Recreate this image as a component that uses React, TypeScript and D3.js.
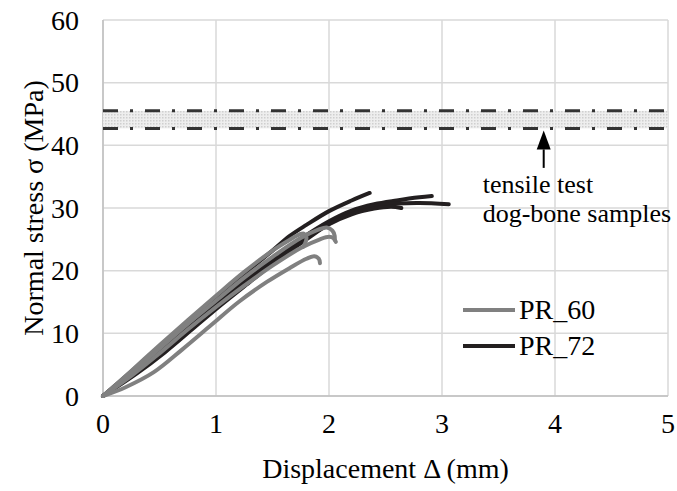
import React from "react";
import * as d3 from "d3";

type Pt = [number, number];

// PR_60 specimens (displacement mm, stress MPa)
const pr60_a: Pt[] = [[0,0],[0.25,4],[0.5,8.1],[0.75,12.1],[1,16],[1.25,19.8],[1.5,23.2],[1.65,24.9],[1.74,25.8],[1.78,25.9],[1.8,25.3],[1.79,24.4],[1.77,23.8]];
const pr60_b: Pt[] = [[0,0],[0.25,3.7],[0.5,7.6],[0.75,11.5],[1,15.2],[1.25,18.9],[1.5,22.2],[1.75,25.2],[1.9,26.5],[1.98,26.9],[2.03,26.4],[2.05,25.6],[2.05,24.9]];
const pr60_c: Pt[] = [[0,0],[0.25,3.2],[0.5,6.8],[0.75,10.6],[1,14.2],[1.25,17.6],[1.5,20.8],[1.75,23.6],[1.92,25.0],[2.0,25.4],[2.04,25.2],[2.06,24.6]];
const pr60_d: Pt[] = [[0,0],[0.2,1.4],[0.45,3.8],[0.7,7.4],[0.95,11.2],[1.2,15.0],[1.45,18.2],[1.65,20.4],[1.8,21.9],[1.87,22.3],[1.91,21.9],[1.92,21.2]];

// PR_72 specimens
const pr72_a: Pt[] = [[0,0],[0.25,3.9],[0.5,7.9],[0.75,11.9],[1,15.8],[1.25,19.5],[1.5,23.2],[1.65,25.5],[1.8,27.3],[2.0,29.5],[2.2,31.2],[2.36,32.4]];
const pr72_b: Pt[] = [[0,0],[0.25,3.6],[0.5,7.3],[0.75,11.1],[1,14.9],[1.25,18.5],[1.5,21.9],[1.75,25.1],[2.0,27.9],[2.2,29.6],[2.4,30.6],[2.6,31.2],[2.8,31.7],[2.91,31.9]];
const pr72_c: Pt[] = [[0,0],[0.25,3.4],[0.5,7.0],[0.75,10.8],[1,14.5],[1.25,18.1],[1.5,21.5],[1.75,24.6],[2.0,27.5],[2.2,29.3],[2.4,30.3],[2.6,30.7],[2.8,30.8],[3.06,30.6]];
const pr72_d: Pt[] = [[0,0],[0.3,3.6],[0.55,7.0],[0.8,10.8],[1.05,14.6],[1.3,18.2],[1.55,21.8],[1.8,25.0],[2.0,27.4],[2.2,29.0],[2.4,29.9],[2.55,30.2],[2.64,30.0]];

const pr60Curves = [pr60_a, pr60_b, pr60_c, pr60_d];
const pr72Curves = [pr72_a, pr72_b, pr72_c, pr72_d];

const seriesNames = ["PR_60", "PR_72"];
const xTicks = [0, 1, 2, 3, 4, 5];
const yTicks = [0, 10, 20, 30, 40, 50, 60];

// tensile test band (dog-bone samples)
const bandLow = 42.7;
const bandHigh = 45.5;
const arrowX = 3.9;
const arrowFrom = 36.4;
const annotationLines = ["tensile test", "dog-bone samples"];

const W = 677;
const H = 491;
const M = { left: 103, right: 9, top: 20, bottom: 95 };

const COLOR60 = "#808080";
const COLOR72 = "#231f20";
const FONT = "'Liberation Serif', 'Times New Roman', serif";

export default function App() {
  const x = d3.scaleLinear().domain([0, 5]).range([M.left, W - M.right]);
  const y = d3.scaleLinear().domain([0, 60]).range([H - M.bottom, M.top]);
  const line = d3
    .line<Pt>()
    .x((d) => x(d[0]))
    .y((d) => y(d[1]))
    .curve(d3.curveCatmullRom.alpha(0.5));

  const ax = x(arrowX);
  const tipY = y(bandLow) + 2;
  const baseY = tipY + 19;

  return (
    <svg
      width={W}
      height={H}
      style={{ position: "absolute", left: 0, top: 0, background: "#fff" }}
      fontFamily={FONT}
    >
      <defs>
        <pattern id="dots" width="3" height="3" patternUnits="userSpaceOnUse">
          <rect width="3" height="3" fill="#eeeeee" />
          <rect width="1.5" height="1.5" fill="#cfcfcf" />
        </pattern>
      </defs>
      {/* gridlines */}
      {yTicks.map((t) => (
        <line key={"gy" + t} x1={x(0)} x2={x(5)} y1={y(t)} y2={y(t)} stroke="#d9d9d9" strokeWidth={1.5} />
      ))}
      {xTicks.map((t) => (
        <line key={"gx" + t} x1={x(t)} x2={x(t)} y1={y(0)} y2={y(60)} stroke="#d9d9d9" strokeWidth={1.5} />
      ))}
      {/* axes */}
      <line x1={x(0)} x2={x(0)} y1={y(0)} y2={y(60)} stroke="#bfbfbf" strokeWidth={1.5} />
      <line x1={x(0)} x2={x(5)} y1={y(0)} y2={y(0)} stroke="#bfbfbf" strokeWidth={1.5} />

      {/* band */}
      <rect x={x(0)} width={x(5) - x(0)} y={y(bandHigh)} height={y(bandLow) - y(bandHigh)} fill="url(#dots)" />
      {[bandHigh, bandLow].map((v) => (
        <line
          key={"b" + v}
          x1={x(0)}
          x2={x(5)}
          y1={y(v)}
          y2={y(v)}
          stroke="#333"
          strokeWidth={3}
          strokeDasharray="15 12 3 12"
        />
      ))}

      {/* curves */}
      {pr72Curves.map((c, i) => (
        <path key={"k" + i} d={line(c) || ""} fill="none" stroke={COLOR72} strokeWidth={4} strokeLinecap="round" strokeLinejoin="round" />
      ))}
      {pr60Curves.map((c, i) => (
        <path key={"g" + i} d={line(c) || ""} fill="none" stroke={COLOR60} strokeWidth={4} strokeLinecap="round" strokeLinejoin="round" />
      ))}

      {/* arrow */}
      <line x1={ax} x2={ax} y1={y(arrowFrom)} y2={baseY} stroke="#000" strokeWidth={2} />
      <path d={`M${ax},${tipY} L${ax - 7},${baseY} L${ax + 7},${baseY} Z`} fill="#000" />
      <text x={x(3.36)} y={y(32.4)} fontSize={26} fill="#000">{annotationLines[0]}</text>
      <text x={x(3.36)} y={y(27.8)} fontSize={26} fill="#000">{annotationLines[1]}</text>

      {/* legend */}
      {seriesNames.map((s, i) => (
        <g key={s}>
          <line x1={463} x2={515} y1={310 + i * 36} y2={310 + i * 36} stroke={i === 0 ? COLOR60 : COLOR72} strokeWidth={4} />
          <text x={519} y={318.5 + i * 36.5} fontSize={28} fill="#000">{s}</text>
        </g>
      ))}

      {/* tick labels */}
      {yTicks.map((t) => (
        <text key={"ty" + t} x={79} y={y(t)} dy="0.35em" textAnchor="end" fontSize={28} fill="#000">{t}</text>
      ))}
      {xTicks.map((t) => (
        <text key={"tx" + t} x={x(t)} y={433} textAnchor="middle" fontSize={28} fill="#000">{t}</text>
      ))}

      {/* axis titles */}
      <text x={(x(0) + x(5)) / 2} y={478} textAnchor="middle" fontSize={28} fill="#000">Displacement Δ (mm)</text>
      <text
        transform={`translate(43, ${(y(0) + y(60)) / 2}) rotate(-90)`}
        textAnchor="middle"
        fontSize={28}
        fill="#000"
      >
        Normal stress σ (MPa)
      </text>
    </svg>
  );
}
